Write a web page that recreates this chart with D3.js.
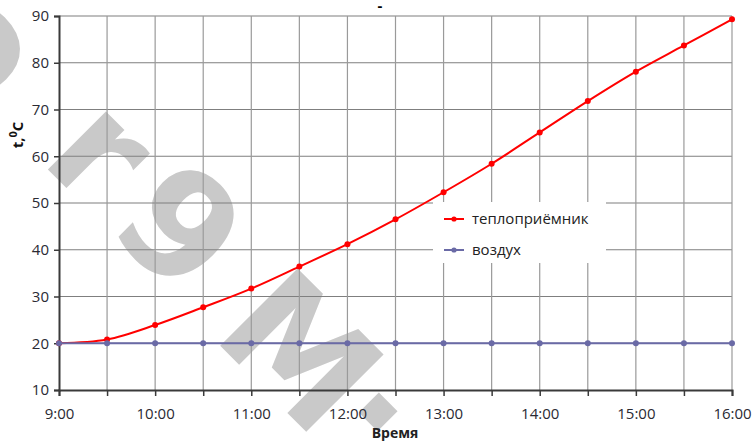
<!DOCTYPE html>
<html>
<head>
<meta charset="utf-8">
<script src="https://cdn.jsdelivr.net/npm/d3@7"></script>
<style>
  html, body { margin: 0; padding: 0; background: #fff; }
  svg { display: block; }
</style>
</head>
<body>
<div id="chart"></div>
<script>
// half-hour time points (hours)
var hours = [9, 9.5, 10, 10.5, 11, 11.5, 12, 12.5, 13, 13.5, 14, 14.5, 15, 15.5, 16];
var hourTicks = [9, 10, 11, 12, 13, 14, 15, 16];
var hourLabels = ["9:00", "10:00", "11:00", "12:00", "13:00", "14:00", "15:00", "16:00"];
var tempTicks = [10, 20, 30, 40, 50, 60, 70, 80, 90];
// series
var receiver = [20, 20.8, 23.9, 27.7, 31.7, 36.4, 41.2, 46.5, 52.3, 58.4, 65.1, 71.8, 78.1, 83.7, 89.3];
var air = [20, 20, 20, 20, 20, 20, 20, 20, 20, 20, 20, 20, 20, 20, 20];
var seriesNames = ["теплоприёмник", "воздух"];

var width = 754, height = 441;
var redColor = "#ff0000";
var blueColor = "#6a6aa6";
var font = "'Open Sans', 'DejaVu Sans', sans-serif";

var svg = d3.select("#chart").append("svg")
  .attr("width", width)
  .attr("height", height);

var x = d3.scaleLinear().domain([9, 16]).range([59, 732]);
var y = d3.scaleLinear().domain([10, 90]).range([390, 16]);

// watermark (behind everything)
var wm = svg.append("g")
  .attr("fill", "#c9c9c9")
  .attr("font-family", "'DejaVu Sans', sans-serif")
  .attr("font-weight", "bold")
  .attr("font-size", 150);
var wmGlyphs = [
  {t: "o", cx: -18, cy: 40},
  {t: "r", cx: 102, cy: 150},
  {t: "9", cx: 180, cy: 228},
  {t: "M", cx: 300, cy: 352},
  {t: ".", cx: 405, cy: 385}
];
wm.selectAll("text")
  .data(wmGlyphs)
  .join("text")
  .attr("text-anchor", "middle")
  .attr("dominant-baseline", "central")
  .attr("transform", d => "translate(" + d.cx + "," + d.cy + ") rotate(45)")
  .text(d => d.t);

// horizontal gridlines
svg.append("g")
  .selectAll("line")
  .data(tempTicks.filter(d => d > 10))
  .join("line")
  .attr("x1", x(9)).attr("x2", x(16))
  .attr("y1", d => y(d)).attr("y2", d => y(d))
  .attr("stroke", "#7f7f7f")
  .attr("stroke-width", 1.2);

// vertical gridlines
svg.append("g")
  .selectAll("line")
  .data(hours.filter(d => d > 9))
  .join("line")
  .attr("x1", d => x(d)).attr("x2", d => x(d))
  .attr("y1", y(90)).attr("y2", y(10))
  .attr("stroke", "#9a9a9a")
  .attr("stroke-width", 1.2);

// axes
var yAxis = d3.axisLeft(y).tickValues(tempTicks).tickSize(5).tickPadding(5);
var gy = svg.append("g").attr("transform", "translate(" + x(9) + ",0)").call(yAxis);
var xAxis = d3.axisBottom(x).tickValues(hours).tickSize(6).tickPadding(12)
  .tickFormat(d => { var i = hourTicks.indexOf(d); return i >= 0 ? hourLabels[i] : ""; });
var gx = svg.append("g").attr("transform", "translate(0," + y(10) + ")").call(xAxis);

[gx, gy].forEach(function(g) {
  g.select(".domain").attr("stroke", "#3a3a3a").attr("stroke-width", 2);
  g.selectAll(".tick line").attr("stroke", "#3a3a3a").attr("stroke-width", 1.5);
  g.selectAll(".tick text")
    .attr("font-family", font)
    .attr("font-size", 15)
    .attr("fill", "#2a2a33");
});

// series
var line = d3.line()
  .x((d, i) => x(hours[i]))
  .y(d => y(d))
  .curve(d3.curveCatmullRom.alpha(0.5));

svg.append("path")
  .datum(receiver)
  .attr("d", line)
  .attr("fill", "none")
  .attr("stroke", redColor)
  .attr("stroke-width", 2);

svg.append("g")
  .selectAll("circle")
  .data(receiver)
  .join("circle")
  .attr("cx", (d, i) => x(hours[i]))
  .attr("cy", d => y(d))
  .attr("r", 3)
  .attr("fill", redColor);

svg.append("path")
  .datum(air)
  .attr("d", line)
  .attr("fill", "none")
  .attr("stroke", blueColor)
  .attr("stroke-width", 2);

svg.append("g")
  .selectAll("circle")
  .data(air)
  .join("circle")
  .attr("cx", (d, i) => x(hours[i]))
  .attr("cy", d => y(d))
  .attr("r", 3)
  .attr("fill", blueColor);

// legend
var legend = svg.append("g").attr("transform", "translate(433,202)");
legend.append("rect")
  .attr("width", 173).attr("height", 61)
  .attr("fill", "#fff");
var legendColors = [redColor, blueColor];
var items = legend.selectAll("g.item")
  .data(seriesNames)
  .join("g")
  .attr("class", "item")
  .attr("transform", (d, i) => "translate(0," + (17 + i * 31) + ")");
items.append("line")
  .attr("x1", 11).attr("x2", 31)
  .attr("stroke", (d, i) => legendColors[i])
  .attr("stroke-width", 2);
items.append("circle")
  .attr("cx", 21).attr("r", 2.6)
  .attr("fill", (d, i) => legendColors[i]);
items.append("text")
  .attr("x", 39)
  .attr("dy", "0.35em")
  .attr("font-family", font)
  .attr("font-size", 15)
  .attr("fill", "#222")
  .text(d => d);

// title
svg.append("text")
  .attr("x", 380).attr("y", 11)
  .attr("text-anchor", "middle")
  .attr("font-family", font)
  .attr("font-weight", "bold")
  .attr("font-size", 15)
  .text("-");

// axis titles
var yt = svg.append("text")
  .attr("transform", "translate(23,135) rotate(-90)")
  .attr("text-anchor", "middle")
  .attr("font-family", font)
  .attr("font-weight", "bold")
  .attr("font-size", 15)
  .attr("fill", "#111");
yt.append("tspan").text("t,");
yt.append("tspan").attr("dy", -6).attr("font-size", 11).text("0");
yt.append("tspan").attr("dy", 6).text("C");

svg.append("text")
  .attr("x", 395).attr("y", 438)
  .attr("text-anchor", "middle")
  .attr("font-family", font)
  .attr("font-weight", "bold")
  .attr("font-size", 14)
  .attr("fill", "#222")
  .text("Время");
</script>
</body>
</html>
